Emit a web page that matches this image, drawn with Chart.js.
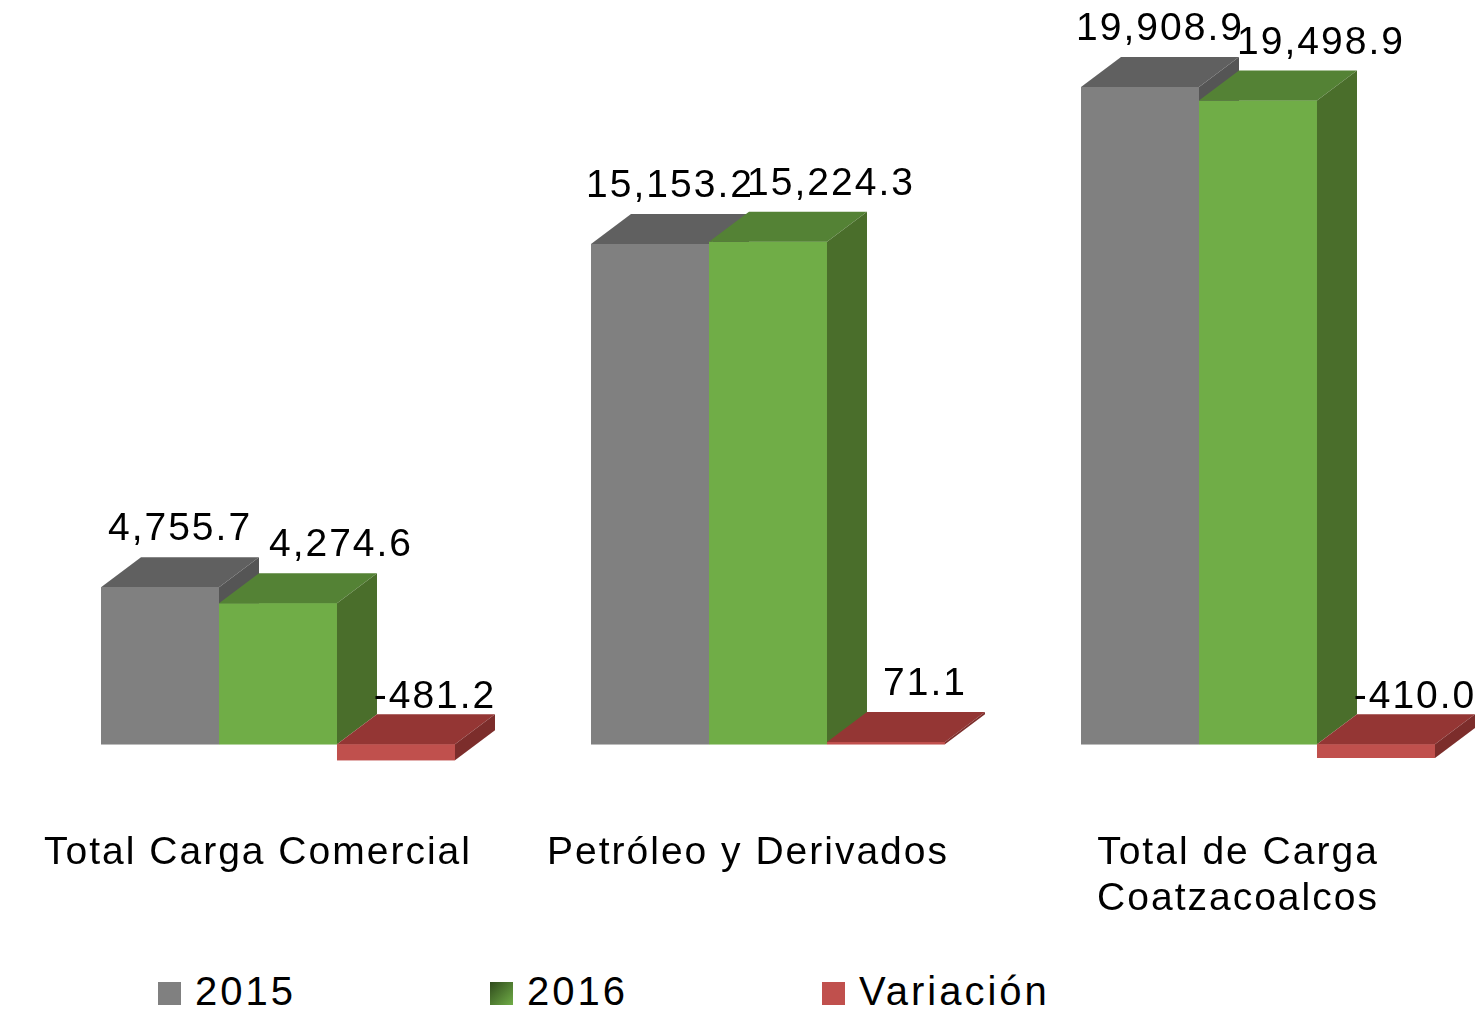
<!DOCTYPE html>
<html>
<head>
<meta charset="utf-8">
<script src="https://cdn.jsdelivr.net/npm/chart.js@4/dist/chart.umd.min.js"></script>
<style>
  html, body { margin: 0; background: #fff; }
  #wrap { position: relative; width: 1483px; height: 1010px; overflow: hidden; }
  #box { position: absolute; left: 0; top: 0; width: 1483px; height: 960px; }
  #legend { position: absolute; left: 158px; top: 969px; display: flex;
            font-family: "Liberation Sans", Arial, sans-serif; font-size: 40px;
            letter-spacing: 3px; color: #000; }
  .item { width: 332px; display: flex; align-items: center; }
  .sw { width: 23px; height: 23px; margin: 4px 14px 0 0; }
</style>
</head>
<body>
<div id="wrap">
  <div id="box"><canvas id="chart"></canvas></div>
  <div id="legend"></div>
</div>
<script>
const categories = ["Total Carga Comercial", "Petróleo y Derivados", ["Total de Carga", "Coatzacoalcos"]];
const seriesNames = ["2015", "2016", "Variación"];
const values2015 = [4755.7, 15153.2, 19908.9];
const values2016 = [4274.6, 15224.3, 19498.9];
const variacion = [-481.2, 71.1, -410.0];

// front / top / side colours for each series
const faces = [
  { front: "#808080", top: "#606060", side: "#555555" },
  { front: "#70ad47", top: "#548235", side: "#4a6e2b" },
  { front: "#c0504d", top: "#943634", side: "#7c2d2b" },
];
const swatches = ["#808080", "linear-gradient(135deg, #2f4a1c, #70ad47)", "#c0504d"];
// horizontal nudge of the value labels per series, like the original
const labelShift = [0, 43, 19];
const depth = { x: 40, y: 30 };
const fontFamily = '"Liberation Sans", Arial, sans-serif';

function fmt(v) {
  return v.toLocaleString("en-US", { minimumFractionDigits: 1, maximumFractionDigits: 1 });
}

const bars3d = {
  id: "bars3d",
  beforeLayout(chart) { chart.ctx.letterSpacing = "2px"; },
  beforeDraw(chart) { chart.ctx.letterSpacing = "2px"; },
  afterDatasetsDraw(chart) {
    const ctx = chart.ctx;
    const metas = chart.data.datasets.map((_, i) => chart.getDatasetMeta(i));
    ctx.save();
    for (let j = 0; j < chart.data.labels.length; j++) {
      metas.forEach((meta, i) => {
        const bar = meta.data[j].getProps(["x", "y", "base", "width"], true);
        const f = faces[i];
        const left = bar.x - bar.width / 2;
        const right = bar.x + bar.width / 2;
        const top = Math.min(bar.y, bar.base);
        const bottom = Math.max(bar.y, bar.base);
        ctx.fillStyle = f.front;
        ctx.fillRect(left, top, right - left, bottom - top);
        ctx.fillStyle = f.top;
        ctx.beginPath();
        ctx.moveTo(left, top);
        ctx.lineTo(left + depth.x, top - depth.y);
        ctx.lineTo(right + depth.x, top - depth.y);
        ctx.lineTo(right, top);
        ctx.closePath();
        ctx.fill();
        ctx.fillStyle = f.side;
        ctx.beginPath();
        ctx.moveTo(right, top);
        ctx.lineTo(right + depth.x, top - depth.y);
        ctx.lineTo(right + depth.x, bottom - depth.y);
        ctx.lineTo(right, bottom);
        ctx.closePath();
        ctx.fill();
      });
    }
    ctx.fillStyle = "#000";
    ctx.font = `39px ${fontFamily}`;
    ctx.letterSpacing = "2px";
    ctx.textAlign = "center";
    ctx.textBaseline = "alphabetic";
    metas.forEach((meta, i) => {
      const values = chart.data.datasets[i].data;
      meta.data.forEach((el, j) => {
        const bar = el.getProps(["x", "y", "base"], true);
        const top = Math.min(bar.y, bar.base) - depth.y;
        const gap = values[j] < 0 ? 6 : 17;
        ctx.fillText(fmt(values[j]), bar.x + depth.x / 2 + labelShift[i], top - gap);
      });
    });
    ctx.restore();
  },
};

function renderLegend() {
  const legend = document.getElementById("legend");
  seriesNames.forEach((name, i) => {
    const item = document.createElement("div");
    item.className = "item";
    item.innerHTML = `<span class="sw" style="background:${swatches[i]}"></span><span>${name}</span>`;
    legend.appendChild(item);
  });
}

const ctx = document.getElementById("chart").getContext("2d");
new Chart(ctx, {
  type: "bar",
  data: {
    labels: categories,
    datasets: [
      { label: seriesNames[0], data: values2015, backgroundColor: faces[0].front },
      { label: seriesNames[1], data: values2016, backgroundColor: faces[1].front },
      { label: seriesNames[2], data: variacion, backgroundColor: faces[2].front },
    ],
  },
  options: {
    maintainAspectRatio: false,
    animation: false,
    layout: { padding: { left: 278, right: 225, top: 18, bottom: 26 } },
    datasets: { bar: { categoryPercentage: 0.7224, barPercentage: 1, clip: false } },
    plugins: { legend: { display: false }, tooltip: { enabled: false } },
    scales: {
      x: {
        offset: false,
        grid: { display: false },
        border: { display: false },
        ticks: {
          autoSkip: false,
          maxRotation: 0,
          padding: 11,
          labelOffset: -20,
          color: "#000",
          font: { family: fontFamily, size: 39, lineHeight: 1.2 },
        },
      },
      y: { display: false, min: -2000, max: 22000 },
    },
  },
  plugins: [bars3d],
});

renderLegend();
</script>
</body>
</html>
